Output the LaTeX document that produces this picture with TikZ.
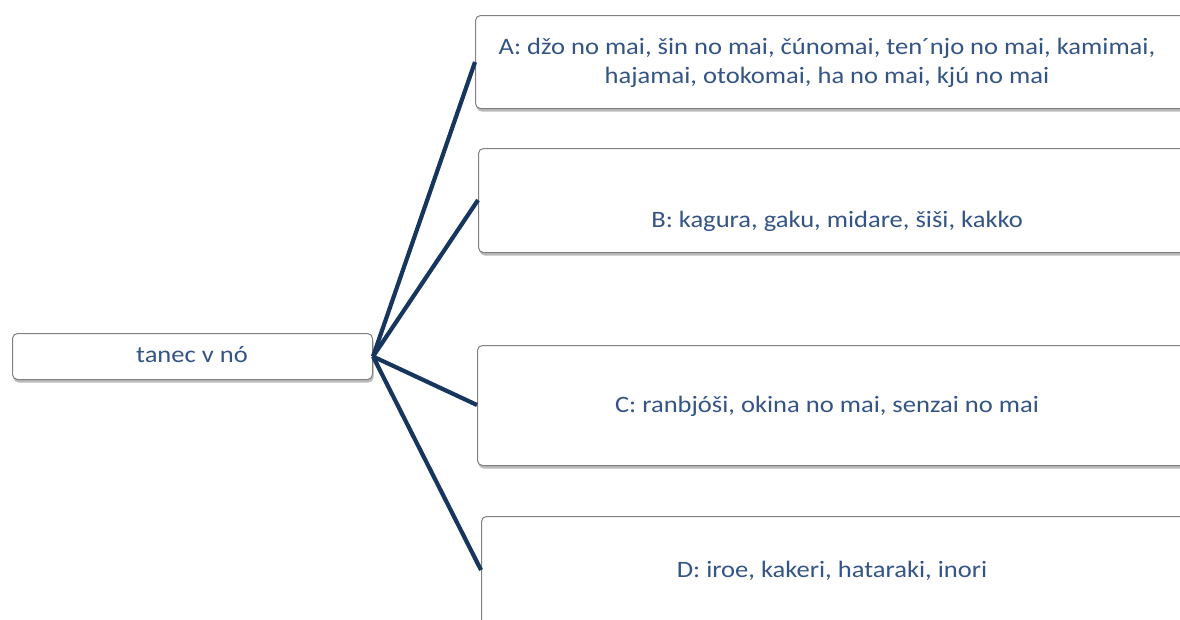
\documentclass[tikz,border=0pt]{standalone}
\usepackage{fontspec}
\setmainfont{Carlito}[FakeStretch=1.13]
\usetikzlibrary{shadows}
\definecolor{txt}{RGB}{52,84,134}
\definecolor{navy}{RGB}{23,54,93}
\definecolor{edge}{RGB}{128,128,128}
\tikzset{
  box/.style={draw=edge, line width=1pt, rounded corners=5pt, fill=white,
    drop shadow={shadow xshift=1pt, shadow yshift=-3pt, fill=black!45, opacity=0.6},
    anchor=north west, inner sep=0pt, text=txt, align=center},
  lbl/.style={text=txt, font=\fontsize{23.5}{29}\selectfont, align=center, inner sep=0pt},
  link/.style={draw=navy, line width=4.2pt}
}
\begin{document}
\begin{tikzpicture}[x=1pt,y=-1pt]
\useasboundingbox (0,0) rectangle (1180,619);
\clip (0,0) rectangle (1180,619);
\node[box, minimum width=360pt, minimum height=46pt] (root) at (12,333) {};
\node[box, minimum width=710pt, minimum height=93pt] (a) at (475,15) {};
\node[box, minimum width=710pt, minimum height=104pt] (b) at (478,148) {};
\node[box, minimum width=710pt, minimum height=120pt] (c) at (477,345) {};
\node[box, minimum width=710pt, minimum height=120pt] (d) at (481,516) {};
\node[lbl] (tr) at (192,355) {tanec v nó};
\node[lbl] (ta) at (827,63) {A: džo no mai, šin no mai, čúnomai, ten´njo no mai, kamimai,\\hajamai, otokomai, ha no mai, kjú no mai};
\node[lbl] (tb) at (837,221) {B: kagura, gaku, midare, šiši, kakko};
\node[lbl] (tc) at (827,406) {C: ranbjóši, okina no mai, senzai no mai};
\node[lbl] (td) at (832,571) {D: iroe, kakeri, hataraki, inori};
\coordinate (o) at (root.east);
\draw[link] (o) -- (a.west |- 0,62);
\draw[link] (o) -- (b.west |- 0,200);
\draw[link] (o) -- (c.west |- 0,405);
\draw[link] (o) -- (d.west |- 0,570);
\end{tikzpicture}
\end{document}
